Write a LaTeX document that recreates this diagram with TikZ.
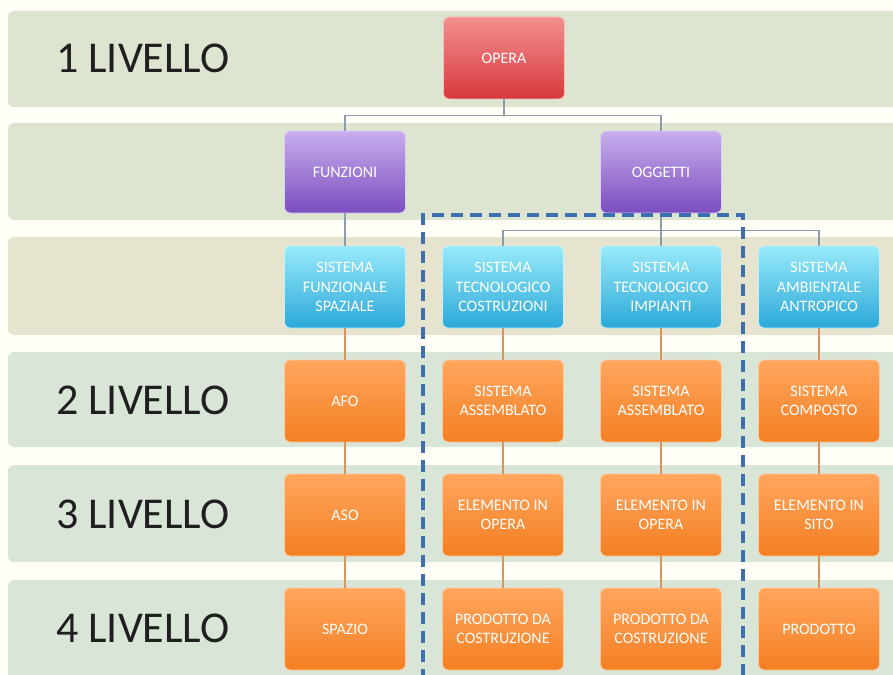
\documentclass[tikz,border=0pt]{standalone}
\usepackage{fontspec}
\setmainfont{Carlito}
\usetikzlibrary{calc}
\definecolor{bandA}{HTML}{DDE5D1}
\definecolor{bandB}{HTML}{E6E4CF}
\definecolor{bandC}{HTML}{D9E5D7}
\definecolor{redT}{HTML}{F49090}
\definecolor{redB}{HTML}{D7383C}
\definecolor{purT}{HTML}{C8AEEE}
\definecolor{purB}{HTML}{7A4DBE}
\definecolor{bluT}{HTML}{98EAF9}
\definecolor{bluB}{HTML}{2BA8D9}
\definecolor{orgT}{HTML}{FFA65E}
\definecolor{orgB}{HTML}{F47F22}
\definecolor{lineG}{HTML}{8C9CAA}
\definecolor{lineO}{HTML}{D9935C}
\definecolor{dashB}{HTML}{3C6FB2}
\tikzset{
  band/.style={fill=#1, draw=none, rounded corners=6pt},
  lvl/.style={anchor=west, inner sep=0pt, text=black!88, font=\fontsize{44}{46}\selectfont},
  box/.style={minimum width=121pt, minimum height=82pt, rounded corners=6pt,
    inner sep=2pt, align=center, text=white, font=\fontsize{16}{19.5}\selectfont},
  redbox/.style={box, top color=redT, bottom color=redB, draw=redT!60!white, line width=0.8pt},
  purbox/.style={box, top color=purT, bottom color=purB, draw=purT!60!white, line width=0.8pt},
  blubox/.style={box, top color=bluT, bottom color=bluB, draw=bluT!60!white, line width=0.8pt},
  orgbox/.style={box, top color=orgT, bottom color=orgB, draw=orgT!60!white, line width=0.8pt},
  conn/.style={draw=lineG, line width=1.2pt},
  connO/.style={draw=lineO, line width=1.2pt},
  group/.style={draw=dashB, line width=3.2pt, dash pattern=on 12pt off 7pt}
}
\begin{document}
\begin{tikzpicture}[x=1pt, y=-1pt]
\useasboundingbox (0,0) rectangle (893,674);
\clip (0,0) rectangle (893,674);
\fill[white!97!yellow] (0,0) rectangle (893,674);

% horizontal level bands
\fill[band=bandA] (8,11) rectangle (910,107);
\fill[band=bandA] (8,123) rectangle (910,220);
\fill[band=bandB] (8,237) rectangle (910,335);
\fill[band=bandC] (8,352) rectangle (910,447);
\fill[band=bandC] (8,465) rectangle (910,562);
\fill[band=bandC] (8,580) rectangle (910,690);

% level labels
\node[lvl] (l1) at (56,58) {1 LIVELLO};
\node[lvl] (l2) at (56,400) {2 LIVELLO};
\node[lvl] (l3) at (56,514) {3 LIVELLO};
\node[lvl] (l4) at (56,628) {4 LIVELLO};

% tree nodes
\node[redbox] (opera) at (504,58) {OPERA};
\node[purbox] (funz) at (345,172) {FUNZIONI};
\node[purbox] (ogg) at (661,172) {OGGETTI};

\node[blubox] (s1) at (345,287) {SISTEMA\\FUNZIONALE\\SPAZIALE};
\node[blubox] (s2) at (503,287) {SISTEMA\\TECNOLOGICO\\COSTRUZIONI};
\node[blubox] (s3) at (661,287) {SISTEMA\\TECNOLOGICO\\IMPIANTI};
\node[blubox] (s4) at (819,287) {SISTEMA\\AMBIENTALE\\ANTROPICO};

\node[orgbox] (a1) at (345,401) {AFO};
\node[orgbox] (a2) at (503,401) {SISTEMA\\ASSEMBLATO};
\node[orgbox] (a3) at (661,401) {SISTEMA\\ASSEMBLATO};
\node[orgbox] (a4) at (819,401) {SISTEMA\\COMPOSTO};

\node[orgbox] (b1) at (345,515) {ASO};
\node[orgbox] (b2) at (503,515) {ELEMENTO IN\\OPERA};
\node[orgbox] (b3) at (661,515) {ELEMENTO IN\\OPERA};
\node[orgbox] (b4) at (819,515) {ELEMENTO IN\\SITO};

\node[orgbox] (c1) at (345,629) {SPAZIO};
\node[orgbox] (c2) at (503,629) {PRODOTTO DA\\COSTRUZIONE};
\node[orgbox] (c3) at (661,629) {PRODOTTO DA\\COSTRUZIONE};
\node[orgbox] (c4) at (819,629) {PRODOTTO};

% connectors
\coordinate (j1) at ($(opera.south)+(0,16)$);
\draw[conn] (opera.south) -- (j1) -| (funz.north);
\draw[conn] (j1) -| (ogg.north);
\draw[conn] (funz.south) -- (s1.north);
\coordinate (j2) at ($(ogg.south)+(0,17)$);
\draw[conn] (ogg.south) -- (j2) -| (s2.north);
\draw[conn] (j2) -| (s4.north);
\draw[conn] (j2) -- (s3.north);

\foreach \i in {1,2,3,4}{
  \draw[connO] (s\i.south) -- (a\i.north);
  \draw[connO] (a\i.south) -- (b\i.north);
  \draw[connO] (b\i.south) -- (c\i.north);
}

% dashed group frame
\coordinate (gtl) at (423,215);
\coordinate (gtr) at (743,215);
\coordinate (gbl) at (423,700);
\coordinate (gbr) at (743,700);
\draw[group] (gbl) -- (gtl) -- (gtr) -- (gbr);
\end{tikzpicture}
\end{document}
